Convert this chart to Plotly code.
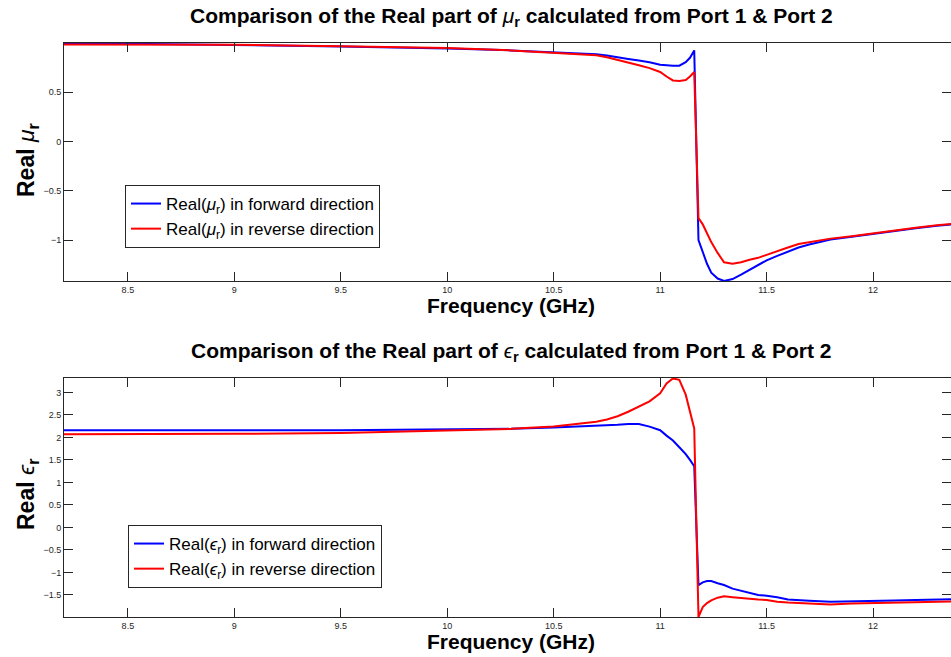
import plotly.graph_objects as go

# ---------------- data ----------------
freq = [8.2, 8.5, 9.0, 9.5, 10.0, 10.3, 10.5, 10.6, 10.7, 10.75, 10.8, 10.85, 10.9, 10.95,
        11.0, 11.03, 11.06, 11.09, 11.12, 11.14, 11.16, 11.18, 11.2, 11.22, 11.24, 11.27,
        11.3, 11.34, 11.38, 11.42, 11.46, 11.5, 11.55, 11.6, 11.65, 11.7, 11.8, 11.9,
        12.0, 12.1, 12.2, 12.3, 12.4]

mu_forward = [1.0, 0.99, 0.98, 0.965, 0.945, 0.925, 0.905, 0.895, 0.885, 0.872, 0.852, 0.838,
              0.822, 0.805, 0.78, 0.772, 0.768, 0.77, 0.805, 0.85, 0.925, -1.0, -1.12, -1.24,
              -1.33, -1.39, -1.415, -1.395, -1.35, -1.3, -1.25, -1.205, -1.16, -1.115, -1.075,
              -1.045, -0.995, -0.965, -0.935, -0.905, -0.88, -0.855, -0.835]

mu_reverse = [0.985, 0.985, 0.982, 0.968, 0.948, 0.925, 0.9, 0.888, 0.875, 0.855, 0.83, 0.8,
              0.775, 0.745, 0.706, 0.66, 0.62, 0.615, 0.625, 0.66, 0.706, -0.777, -0.84, -0.93,
              -1.02, -1.13, -1.225, -1.24, -1.225, -1.2, -1.18, -1.15, -1.11, -1.075, -1.04,
              -1.02, -0.985, -0.96, -0.93, -0.9, -0.875, -0.85, -0.828]

eps_forward = [2.16, 2.165, 2.16, 2.16, 2.17, 2.19, 2.22, 2.235, 2.25, 2.265, 2.28, 2.3, 2.3,
               2.24, 2.16, 2.04, 1.93, 1.78, 1.63, 1.5, 1.36, -1.28, -1.22, -1.19, -1.19, -1.24,
               -1.28, -1.36, -1.41, -1.46, -1.5, -1.52, -1.55, -1.6, -1.62, -1.63, -1.65, -1.645,
               -1.635, -1.625, -1.61, -1.6, -1.59]

eps_reverse = [2.07, 2.07, 2.08, 2.1, 2.15, 2.19, 2.24, 2.29, 2.35, 2.4, 2.47, 2.57, 2.69, 2.8,
               2.98, 3.2, 3.31, 3.28, 2.95, 2.6, 2.2, -1.99, -1.77, -1.68, -1.62, -1.56, -1.53,
               -1.55, -1.57, -1.59, -1.6, -1.61, -1.65, -1.67, -1.68, -1.69, -1.71, -1.69, -1.68,
               -1.67, -1.66, -1.65, -1.64]

x_ticks = [8.5, 9, 9.5, 10, 10.5, 11, 11.5, 12]
mu_ticks = [0.5, 0, -0.5, -1]
eps_ticks = [3, 2.5, 2, 1.5, 1, 0.5, 0, -0.5, -1, -1.5]

title_mu = ("<b>Comparison of the Real part of </b><i>μ</i><sub><b>r</b></sub>"
            "<b> calculated from Port 1 &amp; Port 2</b>")
title_eps = ("<b>Comparison of the Real part of </b><i>ϵ</i><sub><b>r</b></sub>"
             "<b> calculated from Port 1 &amp; Port 2</b>")

FONT = "Liberation Sans, Arial, Helvetica, sans-serif"
AX = "#262626"

fig = go.Figure()
fig.add_trace(go.Scatter(x=freq, y=mu_forward, mode="lines", line=dict(color="#0000ff", width=2),
                         name="Real(<i>μ</i><sub>r</sub>) in forward direction",
                         xaxis="x", yaxis="y", legend="legend"))
fig.add_trace(go.Scatter(x=freq, y=mu_reverse, mode="lines", line=dict(color="#ff0000", width=2),
                         name="Real(<i>μ</i><sub>r</sub>) in reverse direction",
                         xaxis="x", yaxis="y", legend="legend"))
fig.add_trace(go.Scatter(x=freq, y=eps_forward, mode="lines", line=dict(color="#0000ff", width=2),
                         name="Real(<i>ϵ</i><sub>r</sub>) in forward direction",
                         xaxis="x2", yaxis="y2", legend="legend2"))
fig.add_trace(go.Scatter(x=freq, y=eps_reverse, mode="lines", line=dict(color="#ff0000", width=2),
                         name="Real(<i>ϵ</i><sub>r</sub>) in reverse direction",
                         xaxis="x2", yaxis="y2", legend="legend2"))

W, H = 951, 657
x_dom = [64 / W, 1.0]
top_dom = [(H - 281) / H, (H - 43) / H]
bot_dom = [(H - 617) / H, (H - 378) / H]

common_x = dict(range=[8.2, 12.366], tickvals=x_ticks, ticks="inside", ticklen=9,
                showline=True, linecolor=AX, linewidth=1, mirror="ticks", tickcolor=AX,
                showgrid=False, zeroline=False, tickfont=dict(size=9, color=AX, family=FONT),
                domain=x_dom)
common_y = dict(ticks="inside", ticklen=9, showline=True, linecolor=AX, linewidth=1,
                mirror="ticks", tickcolor=AX, showgrid=False, zeroline=False,
                tickfont=dict(size=9, color=AX, family=FONT))

legend_common = dict(bgcolor="white", bordercolor=AX, borderwidth=1,
                     font=dict(size=17, color="#000000", family=FONT),
                     xanchor="left", yanchor="top", tracegroupgap=0, itemwidth=30)

fig.update_layout(
    width=W, height=H, margin=dict(l=0, r=0, t=0, b=0),
    paper_bgcolor="white", plot_bgcolor="white",
    font=dict(family=FONT, color="#000000"),
    xaxis=dict(anchor="y", **common_x),
    yaxis=dict(anchor="x", domain=top_dom, range=[-1.415, 1.0], tickvals=mu_ticks, **common_y),
    xaxis2=dict(anchor="y2", **common_x),
    yaxis2=dict(anchor="x2", domain=bot_dom, range=[-1.99, 3.32], tickvals=eps_ticks, **common_y),
    legend=dict(x=125 / W, y=(H - 185) / H, **legend_common),
    legend2=dict(x=128 / W, y=(H - 525) / H, **legend_common),
    showlegend=True,
)

annots = [
    dict(text=title_mu, x=511 / W, y=(H - 17) / H, size=21),
    dict(text=title_eps, x=511 / W, y=(H - 352) / H, size=21),
    dict(text="<b>Frequency (GHz)</b>", x=511 / W, y=(H - 305) / H, size=21),
    dict(text="<b>Frequency (GHz)</b>", x=511 / W, y=(H - 641) / H, size=21),
    dict(text="<b>Real </b><i>μ</i><sub><b>r</b></sub>", x=27 / W, y=(H - 160) / H,
         size=23, angle=-90),
    dict(text="<b>Real </b><i>ϵ</i><sub><b>r</b></sub>", x=27 / W, y=(H - 494) / H,
         size=23, angle=-90),
]
for a in annots:
    fig.add_annotation(xref="paper", yref="paper", showarrow=False, xanchor="center",
                       yanchor="middle", text=a["text"], x=a["x"], y=a["y"],
                       font=dict(family=FONT, color="#000000", size=a["size"]),
                       textangle=a.get("angle", 0))

fig.write_html("out.html")
